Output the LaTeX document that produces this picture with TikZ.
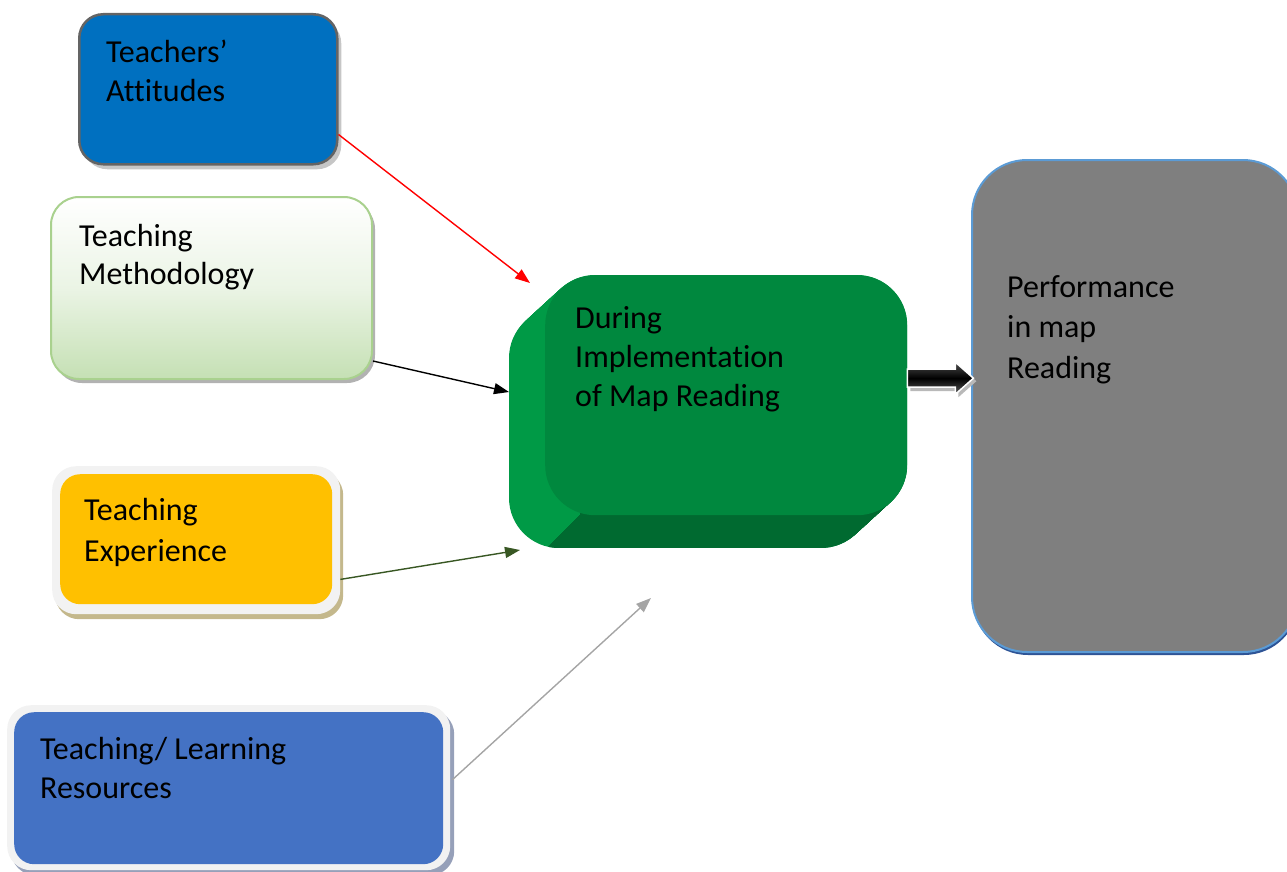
\documentclass[tikz,border=0pt]{standalone}
\usepackage{fontspec}
\setmainfont{Carlito}[Ligatures={NoCommon}]
\usetikzlibrary{arrows.meta,calc,shadows}
\definecolor{taBlue}{RGB}{0,112,192}
\definecolor{taEdge}{RGB}{100,100,100}
\definecolor{tmEdge}{RGB}{169,209,142}
\definecolor{tmGreen}{RGB}{197,224,180}
\definecolor{teYellow}{RGB}{255,192,0}
\definecolor{teShadow}{RGB}{196,184,140}
\definecolor{trBlue}{RGB}{68,114,196}
\definecolor{trShadow}{RGB}{150,160,185}
\definecolor{outerGray}{RGB}{242,242,242}
\definecolor{midFront}{RGB}{0,136,62}
\definecolor{midLeft}{RGB}{0,154,70}
\definecolor{midBottom}{RGB}{0,106,48}
\definecolor{perfGray}{RGB}{127,127,127}
\definecolor{perfEdge}{RGB}{91,155,213}
\definecolor{perfShadow}{RGB}{46,84,150}
\definecolor{arrGreen}{RGB}{56,87,35}
\definecolor{arrGray}{RGB}{165,165,165}
\begin{document}
\begin{tikzpicture}[x=1pt,y=-1pt,
  txt/.style={anchor=north west,inner sep=0pt,align=left,font=\fontsize{32}{#1}\selectfont},
  txt/.default=39,
  conn/.style={line width=1.4pt,-{Triangle[length=15pt,width=11pt]}},
  boxbase/.style={anchor=north west,inner sep=0pt,rounded corners=#1},
]
\useasboundingbox (0,0) rectangle (1287,872);
\clip (0,0) rectangle (1287,872);

% Teachers' Attitudes
\node[boxbase=24pt,fill=taBlue,draw=taEdge,line width=2.5pt,minimum width=258pt,minimum height=150pt,
  drop shadow={shadow xshift=4pt,shadow yshift=-5pt,fill=gray!45,opacity=1}] (ta) at (78,13) {};
\node[txt=38.5] (tat) at (106,40) {Teachers’\\Attitudes};

% Teaching Methodology
\node[boxbase=28pt,top color=white,bottom color=tmGreen,middle color=tmGreen!35,draw=tmEdge,line width=2pt,
  minimum width=321pt,minimum height=182pt,
  drop shadow={shadow xshift=3pt,shadow yshift=-4pt,fill=gray!60,opacity=1}] (tm) at (50,196) {};
\node[txt=38.5] (tmt) at (79,224) {Teaching\\Methodology};

% Teaching Experience
\node[boxbase=24pt,fill=outerGray,minimum width=288pt,minimum height=148pt,
  drop shadow={shadow xshift=3pt,shadow yshift=-5pt,fill=teShadow,opacity=1}] (teo) at (52,466) {};
\node[boxbase=20pt,fill=teYellow,minimum width=272pt,minimum height=130pt] (te) at (60,474) {};
\node[txt=41.5] (tet) at (84,498) {Teaching\\Experience};

% Teaching/ Learning Resources
\node[boxbase=24pt,fill=outerGray,minimum width=443pt,minimum height=165pt,
  drop shadow={shadow xshift=4pt,shadow yshift=-5pt,fill=trShadow,opacity=1}] (tro) at (7,705) {};
\node[boxbase=20pt,fill=trBlue,minimum width=429pt,minimum height=152pt] (tr) at (14,712) {};
\node[txt=39] (trt) at (40,737) {Teaching/ Learning\\Resources};

% Middle 3D box
\begin{scope}
  \foreach \t in {0,0.025,...,1.0}{
    \fill[midLeft,rounded corners=50pt] ($(545,275)+\t*(-36,33)$) rectangle ++(362,240);
  }
  \clip[rounded corners=50pt] (509,275) -- (509,548) -- (907,548) -- (907,275) -- cycle;
  \begin{scope}
    \clip (580,515) -- (580,470) -- (960,470) -- (960,620) -- (475,620) -- cycle;
    \foreach \t in {0,0.025,...,1.0}{
      \fill[midBottom,rounded corners=50pt] ($(545,275)+\t*(-36,33)$) rectangle ++(362,240);
    }
  \end{scope}
\end{scope}
\node[boxbase=50pt,fill=midFront,minimum width=362pt,minimum height=240pt] (mid) at (545,275) {};
\node[txt=39] (midt) at (575,306) {During\\Implementation\\of Map Reading};

% Performance box
\node[boxbase=55pt,fill=perfGray,draw=perfEdge,line width=2pt,minimum width=326pt,minimum height=492pt,
  drop shadow={shadow xshift=1pt,shadow yshift=-3pt,fill=perfShadow,opacity=1}] (perf) at (971,159) {};
\node[txt=40.7] (perft) at (1007,275) {Performance\\in map\\Reading};

% Block arrow
\coordinate (ba) at ($(mid.east)+(0,-17)$);
\fill[gray!55] ($(ba)+(3,-7)$) -- ++(48,0) -- ++(0,-6) -- ++(18,16) -- ++(-18,16) -- ++(0,-6) -- ++(-48,0) -- cycle;
\draw[white,line width=1.5pt,top color=gray!60!black,bottom color=gray!70!black,middle color=black]
  ($(ba)+(0,-9)$) -- ++(48,0) -- ++(0,-7) -- ++(18,16) -- ++(-18,16) -- ++(0,-7) -- ++(-48,0) -- cycle;

% Connectors
\coordinate (e1) at (530,283);
\coordinate (e2) at (509,392);
\coordinate (e3) at (520,550);
\coordinate (e4) at (651,598);
\draw[conn,red] ($(ta.south east)+(0,-31)$) -- (e1);
\draw[conn,black] ($(tm.south east)+(0,-19)$) -- (e2);
\draw[conn,arrGreen] ($(teo.south east)+(0,-35)$) -- (e3);
\draw[conn,arrGray] ($(tro.east)+(2,-8)$) -- (e4);
\end{tikzpicture}
\end{document}
